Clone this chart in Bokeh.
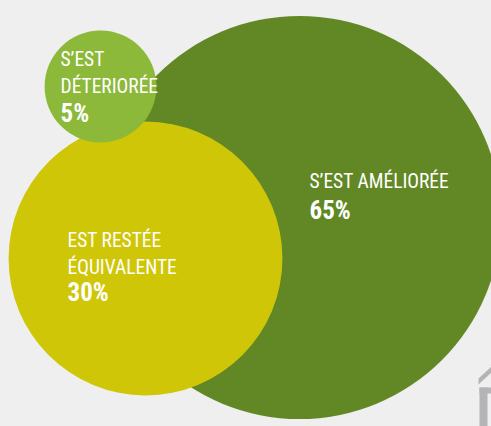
import math
from bokeh.plotting import figure
from bokeh.models import Range1d, ColumnDataSource
from bokeh.core.properties import value
from bokeh.embed import file_html
from bokeh.resources import INLINE

# --- data ---
categories = ["S’EST AMÉLIORÉE", "EST RESTÉE ÉQUIVALENTE", "S’EST DÉTERIORÉE"]
percent = [65, 30, 5]
label_lines = [["S’EST AMÉLIORÉE"], ["EST RESTÉE", "ÉQUIVALENTE"], ["S’EST", "DÉTERIORÉE"]]
colors = ["#628826", "#cfc608", "#8cb93a"]

# --- layout (pixel space of the picture) ---
centers_x = [299, 145, 100]
centers_y = [217, 258, 86]
text_x = [309, 67, 60]
text_y0 = [181, 240, 59]
line_gap = 27
pct_gap = [29, 25, 27]
radius_scale = 25.0  # circle area proportional to the share

BG = "#efefef"
W, H = 491, 426
p = figure(width=W, height=H, output_backend="svg", toolbar_location=None,
           x_range=Range1d(0, W), y_range=Range1d(H, 0),
           min_border=0, background_fill_color=BG, border_fill_color=BG)
p.axis.visible = False
p.grid.visible = False
p.outline_line_color = None

radii = [radius_scale * math.sqrt(v) for v in percent]
src = ColumnDataSource(dict(x=centers_x, y=centers_y, r=radii, c=colors))
p.circle(x="x", y="y", radius="r", fill_color="c", line_color=None, source=src)

font = value("Roboto Condensed, Liberation Sans Narrow, DejaVu Sans Condensed, sans-serif")

lx, ly, lt = [], [], []
px, py, pt = [], [], []
for i, lines in enumerate(label_lines):
    for j, s in enumerate(lines):
        lx.append(text_x[i]); ly.append(text_y0[i] + j * line_gap); lt.append(s)
    px.append(text_x[i]); py.append(text_y0[i] + (len(lines) - 1) * line_gap + pct_gap[i])
    pt.append(f"{percent[i]}%")

p.text(x=lx, y=ly, text=lt, text_color="white", text_font=font,
       text_font_size="19.5px", text_baseline="alphabetic", text_align="left")
p.text(x=px, y=py, text=pt, text_color="white", text_font=font,
       text_font_size="25px", text_font_style="bold",
       text_baseline="alphabetic", text_align="left")

# decorative grey logo fragment bottom-right
p.patch(x=[478, 491, 491, 478], y=[378, 366, 372, 384], fill_color="#b4b4b6", line_color=None)
p.quad(left=[479], right=[491], top=[387], bottom=[393], fill_color="#b4b4b6", line_color=None)
p.quad(left=[479], right=[487], top=[387], bottom=[426], fill_color="#b4b4b6", line_color=None)

html = file_html(p, INLINE)
html = html.replace("</head>", f"<style>html,body{{background:{BG};margin:0;overflow:hidden}}</style></head>", 1)
open("out.html", "w").write(html)
